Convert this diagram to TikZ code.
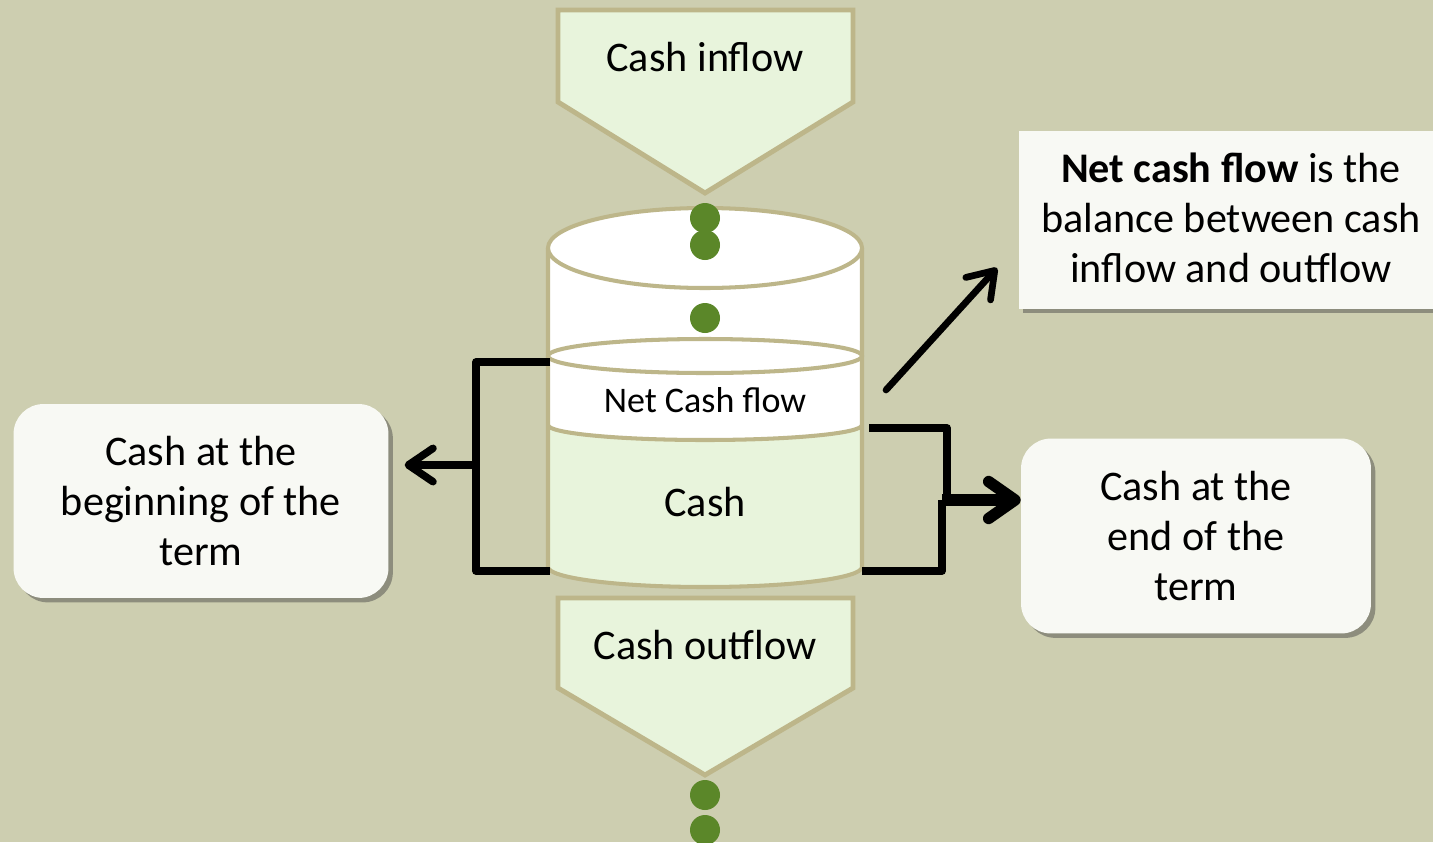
\documentclass[tikz,border=0pt]{standalone}
\usepackage{fontspec}
\setmainfont{Carlito}
\usetikzlibrary{arrows.meta,shadows}

\definecolor{bgolive}{RGB}{205,206,176}
\definecolor{tanedge}{RGB}{189,182,138}
\definecolor{palegreen}{RGB}{232,244,220}
\definecolor{boxwhite}{RGB}{248,249,244}
\definecolor{dotgreen}{RGB}{91,135,41}

\begin{document}
\begin{tikzpicture}[x=0.02cm, y=-0.02cm,
    tanline/.style={draw=tanedge, line width=2.3pt},
    callout/.style={fill=boxwhite, align=center, inner sep=0pt,
        font=\fontsize{24}{28.6}\selectfont,
        drop shadow={shadow xshift=2.5pt, shadow yshift=-2.5pt, opacity=0.45, fill=black!75}},
    link/.style={line width=4.3pt, line join=round},
    tip/.style={-{Straight Barb[length=14pt, width=19pt, round]}}]
    \clip (0,0) rectangle (1433,842);
    \fill[bgolive] (0,0) rectangle (1433,842);

    % inflow / outflow arrows
    \draw[tanline, line width=2.8pt, fill=palegreen] (558,10) -- (853,10) -- (853,102) -- (705,193) -- (558,102) -- cycle;
    \node[font=\fontsize{24}{28.6}\selectfont] (inflow) at (705,57) {Cash inflow};
    \draw[tanline, line width=2.8pt, fill=palegreen] (558,598) -- (853,598) -- (853,688) -- (705,775) -- (558,688) -- cycle;
    \node[font=\fontsize{24}{28.6}\selectfont] (outflow) at (705,645) {Cash outflow};

    % cylinder
    \fill[white] (548,248) rectangle (862,567);
    \fill[palegreen] (548,425) arc[start angle=180, end angle=0, x radius=157, y radius=15]
        -- (862,567) arc[start angle=0, end angle=180, x radius=157, y radius=20] -- cycle;
    \draw[tanline] (548,248) -- (548,567) arc[start angle=180, end angle=0, x radius=157, y radius=20] -- (862,248);
    \draw[tanline, fill=white] (705,248) ellipse[x radius=157, y radius=40];
    \draw[tanline, fill=white] (705,356) ellipse[x radius=157, y radius=17];
    \draw[tanline] (548,425) arc[start angle=180, end angle=0, x radius=157, y radius=15];
    \node[font=\fontsize{20.5}{24}\selectfont] (net) at (705,400) {Net Cash flow};
    \node[font=\fontsize{24}{28.6}\selectfont] (cash) at (705,502) {Cash};

    \foreach \y in {218,245,318,795,830}
        \fill[dotgreen] (705,\y) circle[radius=15];

    % callouts
    \node[callout, rounded corners=0.6cm, minimum width=7.5cm, minimum height=3.88cm] (begin) at (201,501)
        {Cash at the\\beginning of the\\term};
    \node[callout, rounded corners=0.6cm, minimum width=7cm, minimum height=3.9cm] (end) at (1196,536)
        {Cash at the\\end of the\\term};
    \node[callout, minimum width=8.6cm, minimum height=3.56cm] (note) at (1234,220) {};
    \node[font=\fontsize{24}{28.6}\selectfont, align=center] (notetext) at (1231,218)
        {\textbf{Net cash flow} is the\\balance between cash\\inflow and outflow};

    % connectors
    \coordinate (netL) at (550,362);
    \coordinate (cashL) at (550,571);
    \coordinate (jl) at (476,465);
    \coordinate (netR) at (869,428);
    \coordinate (cashR) at (862,571);
    \coordinate (jr) at (947,500);
    \coordinate (jr2) at (942,500);
    \coordinate (diagS) at (886,390);
    \coordinate (diagE) at (997,268);

    \draw[link] (netL) -- (netL -| jl) -- (cashL -| jl) -- (cashL);
    \draw[link, tip, shorten >=9pt] (jl) -- (jl -| begin.east);
    \draw[link] (netR) -- (netR -| jr) -- (jr);
    \draw[link] (cashR) -- (cashR -| jr2) -- (jr2);
    \draw[line width=6.5pt, -{Straight Barb[length=15pt, width=21pt, round]}] (jr2) -- (jr2 -| end.west);
    \draw[line width=3.8pt, black, opacity=0.18, shift={(4,4)}, tip] (diagS) -- (diagE);
    \draw[line width=3.8pt, line cap=round, tip] (diagS) -- (diagE);
\end{tikzpicture}
\end{document}
